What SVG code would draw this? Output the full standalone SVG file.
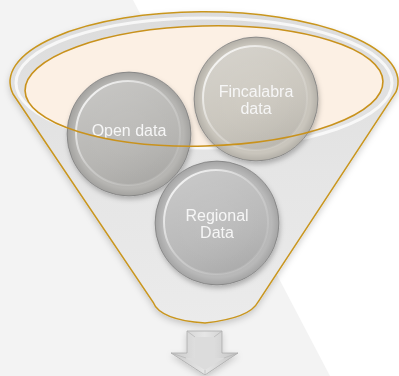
<svg xmlns="http://www.w3.org/2000/svg" width="399" height="376" viewBox="0 0 399 376">
<defs>
<style>
.lbl{font-family:"Liberation Sans",Arial,sans-serif;font-size:16px;fill:#f6f6f6;text-anchor:middle}
.rim{stroke:#8c8c8c;stroke-width:0.8}
.face{stroke:url(#hl);stroke-width:2}
.gold{fill:none;stroke:#c9921c;stroke-width:1.6}
</style>
<linearGradient id="body" x1="0" y1="0" x2="0" y2="1">
<stop offset="0" stop-color="#dcdcdc"/>
<stop offset="0.5" stop-color="#e5e5e5"/>
<stop offset="1" stop-color="#ebebeb"/>
</linearGradient>
<radialGradient id="shade" cx="0.5" cy="0.5" r="0.5">
<stop offset="0" stop-color="#000" stop-opacity="0"/>
<stop offset="0.88" stop-color="#000" stop-opacity="0.02"/>
<stop offset="1" stop-color="#000" stop-opacity="0.13"/>
</radialGradient>
<linearGradient id="faceg" x1="0.3" y1="0" x2="0.7" y2="1">
<stop offset="0" stop-color="#fff" stop-opacity="0.22"/>
<stop offset="0.5" stop-color="#fff" stop-opacity="0.05"/>
<stop offset="1" stop-color="#000" stop-opacity="0.08"/>
</linearGradient>
<linearGradient id="hl" x1="0" y1="0" x2="1" y2="1">
<stop offset="0" stop-color="#fff" stop-opacity="1"/>
<stop offset="0.45" stop-color="#fff" stop-opacity="0.3"/>
<stop offset="1" stop-color="#fff" stop-opacity="0"/>
</linearGradient>
<linearGradient id="arrowg" x1="0" y1="0" x2="1" y2="0">
<stop offset="0" stop-color="#c9c9c9"/>
<stop offset="0.5" stop-color="#e6e6e6"/>
<stop offset="1" stop-color="#c4c4c4"/>
</linearGradient>
<filter id="sh" x="-20%" y="-20%" width="140%" height="140%">
<feDropShadow dx="1" dy="3" stdDeviation="2.5" flood-color="#000" flood-opacity="0.25"/>
</filter>
<filter id="fsh" x="-10%" y="-10%" width="120%" height="120%">
<feDropShadow dx="0" dy="3" stdDeviation="3" flood-color="#000" flood-opacity="0.18"/>
</filter>
</defs>
<rect width="399" height="376" fill="#ffffff"/>
<polygon points="0,0 133,0 330,376 0,376" fill="#f3f3f3"/>

<g id="funnel">
<path d="M 13,94 A 194 70 0 1 1 396,92 L 258,302 Q 250,318 205,323 Q 160,320 153,302 Z" fill="url(#body)" stroke="#c9961f" stroke-width="1.5" filter="url(#fsh)"/>
<ellipse cx="204" cy="83" rx="188" ry="65" fill="none" stroke="#ffffff" stroke-opacity="0.75" stroke-width="3"/>
<ellipse cx="204" cy="86" rx="179" ry="60" transform="rotate(-1.5 204 86)" fill="#fcf0e4"/>
</g>

<g id="node-open-data" filter="url(#sh)">
<circle cx="129" cy="134" r="62" fill="#bab9b6" class="rim"/>
<circle cx="129" cy="134" r="62" fill="url(#shade)"/>
<circle cx="128" cy="133" r="52" fill="url(#faceg)" class="face"/>
<text x="129" y="136" class="lbl">Open data</text>
</g>

<g id="node-fincalabra" filter="url(#sh)">
<circle cx="256" cy="99" r="62" fill="#cdc9c0" class="rim"/>
<circle cx="256" cy="99" r="62" fill="url(#shade)"/>
<circle cx="255" cy="98" r="52" fill="url(#faceg)" class="face"/>
<text x="256" y="97" class="lbl">Fincalabra</text>
<text x="256" y="114" class="lbl">data</text>
</g>

<ellipse cx="204" cy="86" rx="179" ry="60" transform="rotate(-1.5 204 86)" class="gold"/>

<g id="node-regional" filter="url(#sh)">
<circle cx="217" cy="223" r="62" fill="#bcbcbc" class="rim"/>
<circle cx="217" cy="223" r="62" fill="url(#shade)"/>
<circle cx="216" cy="222" r="52" fill="url(#faceg)" class="face"/>
<text x="217" y="221" class="lbl">Regional</text>
<text x="217" y="238" class="lbl">Data</text>
</g>

<g id="connectors">
<g id="arrow" filter="url(#fsh)">
<polygon points="187,331 222,331 222,353 238,353 205,375 171,353 187,353" fill="url(#arrowg)" stroke="#a9a9a9" stroke-width="0.8"/>
<polygon points="195,337 214,337 214,358 224,358 205,370 186,358 195,358" fill="#dcdcdc"/>
<path d="M187,331 L195,337 M222,331 L214,337 M171,353 L186,358 M238,353 L224,358 M205,375 L205,370" stroke="#b4b4b4" stroke-width="0.7" fill="none"/>
</g>
</g>
</svg>
